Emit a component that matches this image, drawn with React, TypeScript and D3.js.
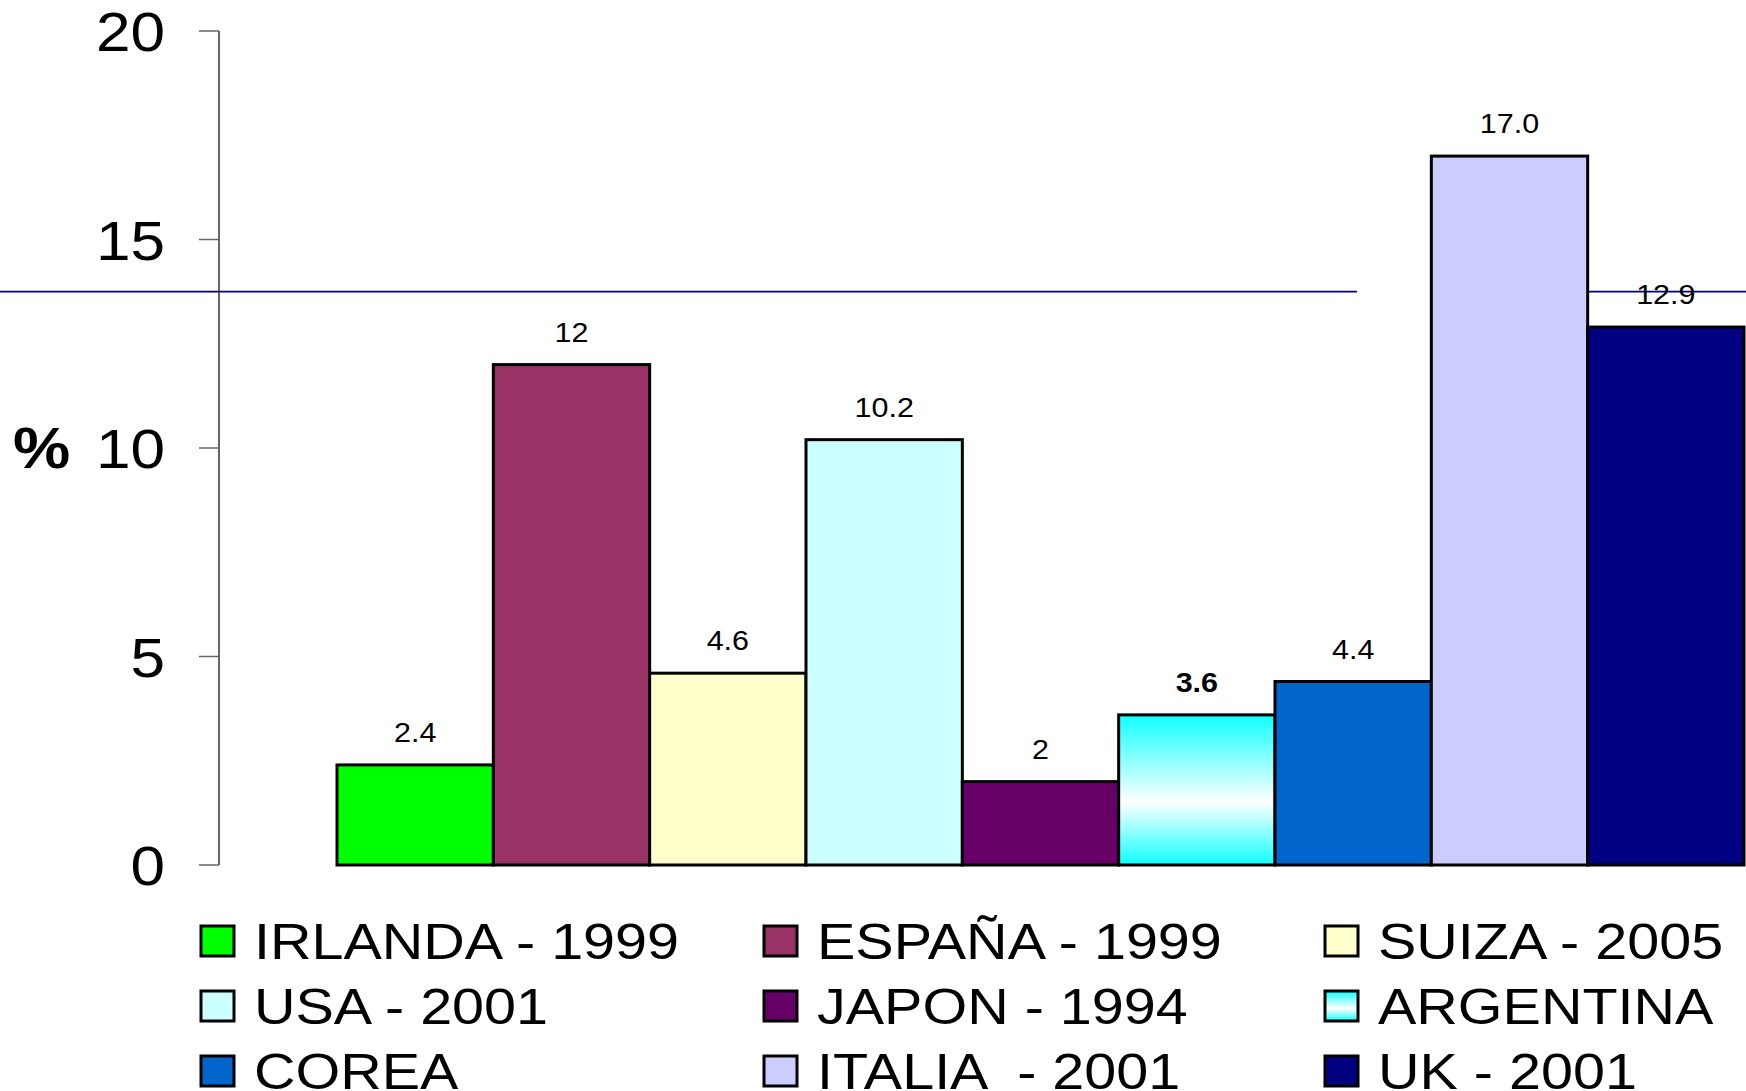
import React, { useEffect, useRef } from 'react';
import * as d3 from 'd3';

const countries = ['IRLANDA - 1999', 'ESPAÑA - 1999', 'SUIZA - 2005', 'USA - 2001', 'JAPON - 1994', 'ARGENTINA', 'COREA', 'ITALIA  - 2001', 'UK - 2001'];
const values = [2.4, 12, 4.6, 10.2, 2, 3.6, 4.4, 17.0, 12.9];
const valueLabels = ['2.4', '12', '4.6', '10.2', '2', '3.6', '4.4', '17.0', '12.9'];
const colors = ['#00FF00', '#993366', '#FFFFCC', '#CCFFFF', '#660066', 'url(#argGrad)', '#0066CC', '#CCCCFF', '#000080'];
const yTicks = [0, 5, 10, 15, 20];
const refLine = 13.75;

const W = 1746;
const H = 1091;
const FONT = 'Arial, "Liberation Sans", sans-serif';
const STRETCH = 1.13;

const App: React.FC = () => {
  const svgRef = useRef<SVGSVGElement | null>(null);

  useEffect(() => {
    const svg = d3.select(svgRef.current);
    svg.selectAll('*').remove();

    const defs = svg.append('defs');
    const grad = defs.append('linearGradient').attr('id', 'argGrad').attr('x1', 0).attr('y1', 0).attr('x2', 0).attr('y2', 1);
    grad.append('stop').attr('offset', '0%').attr('stop-color', '#10FFFF');
    grad.append('stop').attr('offset', '58%').attr('stop-color', '#FFFFFF');
    grad.append('stop').attr('offset', '100%').attr('stop-color', '#10FFFF');

    const y = d3.scaleLinear().domain([0, 20]).range([865, 31]);
    const x = d3.scaleBand<string>().domain(countries).range([337, 1744]).padding(0);

    // reference line (behind the bars, broken just before ITALIA)
    const italyRight = (x(countries[7]) as number) + x.bandwidth();
    svg.append('line')
      .attr('x1', 0).attr('x2', 1357)
      .attr('y1', y(refLine)).attr('y2', y(refLine))
      .attr('stroke', '#000080').attr('stroke-width', 1.6);
    svg.append('line')
      .attr('x1', italyRight).attr('x2', W)
      .attr('y1', y(refLine)).attr('y2', y(refLine))
      .attr('stroke', '#000080').attr('stroke-width', 1.6);

    // y axis
    const axisX = 219;
    svg.append('line')
      .attr('x1', axisX).attr('x2', axisX)
      .attr('y1', y(20)).attr('y2', y(0))
      .attr('stroke', '#333').attr('stroke-width', 1.5);
    const tick = svg.selectAll('g.tick').data(yTicks).join('g').attr('class', 'tick');
    tick.append('line')
      .attr('x1', axisX - 20).attr('x2', axisX)
      .attr('y1', (d) => y(d)).attr('y2', (d) => y(d))
      .attr('stroke', '#666').attr('stroke-width', 1.5);
    tick.append('text')
      .attr('transform', (d) => `translate(165,${y(d) + 20}) scale(${STRETCH},1)`)
      .attr('text-anchor', 'end')
      .attr('font-family', FONT)
      .attr('font-size', 55)
      .attr('fill', '#000')
      .text((d) => d);

    svg.append('text')
      .attr('transform', `translate(13,${y(10) + 20}) scale(${STRETCH},1)`)
      .attr('font-family', FONT)
      .attr('font-size', 57)
      .attr('font-weight', 'bold')
      .text('%');

    // bars
    svg.selectAll('rect.bar').data(values).join('rect')
      .attr('class', 'bar')
      .attr('x', (_, i) => x(countries[i]) as number)
      .attr('y', (d) => y(d))
      .attr('width', x.bandwidth())
      .attr('height', (d) => y(0) - y(d))
      .attr('fill', (_, i) => colors[i])
      .attr('stroke', '#000')
      .attr('stroke-width', 3);

    svg.selectAll('text.val').data(values).join('text')
      .attr('class', 'val')
      .attr('transform', (d, i) => `translate(${(x(countries[i]) as number) + x.bandwidth() / 2},${y(d) - 23}) scale(${STRETCH},1)`)
      .attr('text-anchor', 'middle')
      .attr('font-family', FONT)
      .attr('font-size', 27)
      .attr('font-weight', (_, i) => (i === 5 ? 'bold' : 'normal'))
      .text((_, i) => valueLabels[i]);

    // legend
    const colX = [201, 764, 1325];
    const rowY = [926, 991, 1056];
    const leg = svg.selectAll('g.leg').data(countries).join('g')
      .attr('class', 'leg')
      .attr('transform', (_, i) => `translate(${colX[i % 3]},${rowY[Math.floor(i / 3)]})`);
    leg.append('rect')
      .attr('width', 33).attr('height', 30)
      .attr('fill', (_, i) => colors[i])
      .attr('stroke', '#000').attr('stroke-width', 3);
    leg.append('text')
      .attr('transform', `translate(53,33) scale(1.15,1)`)
      .attr('font-family', FONT)
      .attr('font-size', 50)
      .style('white-space', 'pre')
      .text((d) => d);
  }, []);

  return (
    <svg ref={svgRef} width={W} height={H} style={{ position: 'absolute', left: 0, top: 0, background: '#fff' }} />
  );
};

export default App;
